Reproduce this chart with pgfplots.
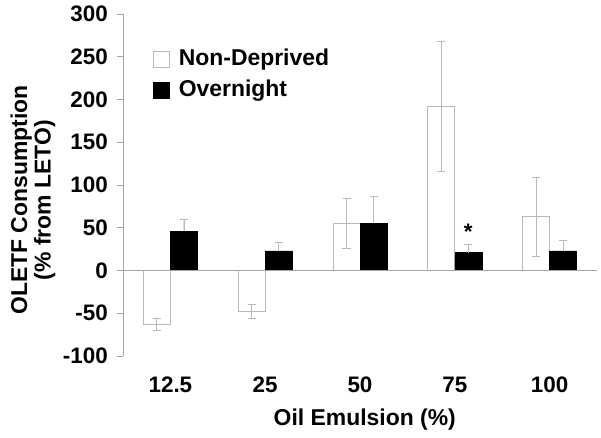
\documentclass[border=0pt]{standalone}
\usepackage{pgfplots}
\pgfplotsset{compat=1.18}
\usepackage{fontspec}
\setmainfont{Liberation Sans}
\definecolor{barline}{RGB}{185,185,185}
\definecolor{axline}{RGB}{165,165,165}
\begin{document}
\fontsize{21.7}{24}\selectfont\bfseries
\begin{tikzpicture}
\path[use as bounding box] (-123bp,-82bp) rectangle (478bp,356bp);
\begin{axis}[
  at={(0,0)}, anchor=south west,
  width=474bp, height=342bp, scale only axis,
  xmin=-0.5, xmax=4.5, ymin=-100, ymax=300,
  axis x line=none,
  axis y line*=left,
  y axis line style={draw=axline, line width=0.8pt},
  ytick={-100,-50,0,50,100,150,200,250,300},
  yticklabels={-100,-50,0,50,100,150,200,250,300},
  ytick style={draw=axline, line width=0.8pt},
  tick align=outside, major tick length=6bp,
  yticklabel style={font=\fontsize{22.5}{24}\selectfont\bfseries, anchor=east, inner sep=0pt, xshift=-9bp},
  xtick={0,1,2,3,4},
  xticklabels={12.5,25,50,75,100},
  ylabel={OLETF Consumption\\(\% from LETO)},
  ylabel style={at={(axis description cs:0,0.456)}, anchor=center, yshift=90bp, align=center, font=\fontsize{23}{23.5}\selectfont\bfseries},
  ybar=0pt, bar width=27bp,
  clip=false,
  legend style={at={(axis description cs:0.063,0.904)}, anchor=north west, draw=none, fill=none, inner sep=0pt,
    font=\fontsize{23}{24}\selectfont\bfseries, row sep=7bp,
    nodes={inner sep=2bp},
    /tikz/every odd column/.append style={column sep=7bp}},
  legend cell align=left,
]
\addplot[draw=barline, fill=white, line width=0.8pt,
  legend image code/.code={\draw[draw=barline, fill=white, line width=0.8pt] (-7bp,-8bp) rectangle (9bp,8bp);},
  error bars/.cd, y dir=both, y explicit,
  error bar style={draw=barline, line width=0.8pt},
  error mark options={rotate=90, mark size=4bp, draw=barline, line width=0.8pt}]
  coordinates {(0,-63) +- (0,7) (1,-48) +- (0,8) (2,55) +- (0,29) (3,192) +- (0,76) (4,63) +- (0,46)};
\addlegendentry{Non-Deprived}
\addplot[draw=black, fill=black,
  legend image code/.code={\draw[draw=black, fill=black] (-7bp,-8bp) rectangle (9bp,8bp);},
  error bars/.cd, y dir=plus, y explicit,
  error bar style={draw=barline, line width=0.8pt},
  error mark options={rotate=90, mark size=4bp, draw=barline, line width=0.8pt}]
  coordinates {(0,46) +- (0,14) (1,23) +- (0,10) (2,55) +- (0,32) (3,21) +- (0,9) (4,23) +- (0,12)};
\addlegendentry{Overnight}
\addplot[draw=axline, line width=0.8pt, no marks, forget plot, sharp plot] coordinates {(-0.5,0) (4.5,0)};
\node[font=\fontsize{22.5}{24}\selectfont\bfseries, anchor=center] at (axis cs:3,45) [xshift=13.5bp] {*};
\node[font=\fontsize{22.5}{24}\selectfont\bfseries, anchor=center] at (axis cs:0,-100) [yshift=-29bp] {12.5};
\node[font=\fontsize{22.5}{24}\selectfont\bfseries, anchor=center] at (axis cs:1,-100) [yshift=-29bp] {25};
\node[font=\fontsize{22.5}{24}\selectfont\bfseries, anchor=center] at (axis cs:2,-100) [yshift=-29bp] {50};
\node[font=\fontsize{22.5}{24}\selectfont\bfseries, anchor=center] at (axis cs:3,-100) [yshift=-29bp] {75};
\node[font=\fontsize{22.5}{24}\selectfont\bfseries, anchor=center] at (axis cs:4,-100) [yshift=-29bp] {100};
\node[font=\fontsize{23}{24}\selectfont\bfseries, anchor=center] at (axis cs:2.05,-100) [yshift=-64bp] {Oil Emulsion (\%)};
\end{axis}
\end{tikzpicture}
\end{document}
